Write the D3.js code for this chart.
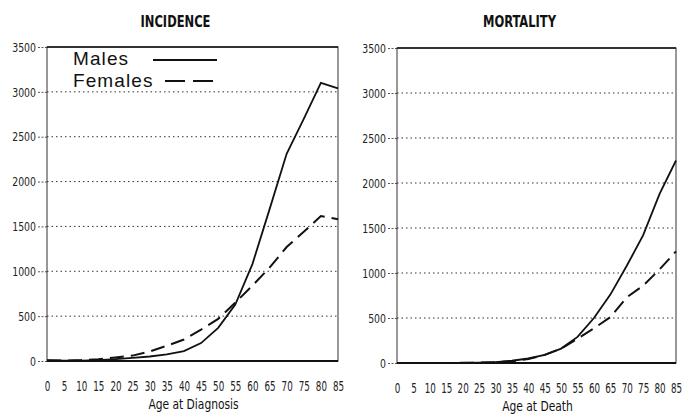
<!DOCTYPE html>
<html lang="en">
<head>
<meta charset="UTF-8" />
<title>Incidence and Mortality</title>
<script src="https://d3js.org/d3.v7.min.js"></script>
<style>
  body { margin: 0; background: #fff; }
  svg { display: block; }
  .narrow { font-family: "DejaVu Sans Condensed", "Liberation Sans Narrow", "Arial Narrow", sans-serif; font-stretch: condensed; }
</style>
</head>
<body>
<div id="chart"></div>
<script>
const ages = [0, 5, 10, 15, 20, 25, 30, 35, 40, 45, 50, 55, 60, 65, 70, 75, 80, 85];
const yTicks = [0, 500, 1000, 1500, 2000, 2500, 3000, 3500];

const incidenceMales   = [10, 5, 5, 10, 20, 35, 50, 75, 110, 200, 370, 630, 1080, 1690, 2310, 2700, 3100, 3040];
const incidenceFemales = [5, 5, 10, 20, 40, 60, 105, 170, 240, 350, 470, 650, 840, 1040, 1270, 1440, 1615, 1580];
const mortalityMales   = [0, 0, 0, 0, 2, 5, 10, 25, 50, 90, 160, 290, 500, 760, 1080, 1420, 1880, 2250];
const mortalityFemales = [0, 0, 0, 0, 2, 4, 8, 20, 45, 90, 160, 270, 385, 510, 730, 860, 1040, 1240];

const panels = [
  { title: "INCIDENCE", xTitle: "Age at Diagnosis", males: incidenceMales, females: incidenceFemales,
    left: 47, right: 338, top: 47, bottom: 361, legend: true },
  { title: "MORTALITY", xTitle: "Age at Death", males: mortalityMales, females: mortalityFemales,
    left: 397, right: 676, top: 48, bottom: 363, legend: false }
];

const svg = d3.select("#chart").append("svg")
  .attr("width", 683).attr("height", 420);

// squeeze a text horizontally around its own x position
function squeeze(sel, sx) {
  sel.each(function () {
    const t = d3.select(this);
    const x0 = +(t.attr("x") || 0);
    t.attr("x", 0).attr("transform", `translate(${x0},0) scale(${sx},1)`);
  });
}

panels.forEach(p => {
  const x = d3.scaleLinear().domain([0, 85]).range([p.left, p.right]);
  const y = d3.scaleLinear().domain([0, 3500]).range([p.bottom, p.top]);
  const g = svg.append("g");

  // gridlines
  g.selectAll("line.grid")
    .data(yTicks.filter(t => t > 0 && t < 3500))
    .join("line")
    .attr("x1", p.left).attr("x2", p.right)
    .attr("y1", d => y(d)).attr("y2", d => y(d))
    .attr("stroke", "#333").attr("stroke-width", 1)
    .attr("stroke-dasharray", "1.5,3");

  // y axis
  const yAxis = g.append("g")
    .attr("class", "narrow")
    .attr("transform", `translate(${p.left},0)`)
    .call(d3.axisLeft(y).tickValues(yTicks).tickFormat(d3.format("d")).tickSize(9).tickPadding(2));
  yAxis.select(".domain").remove();
  yAxis.selectAll(".tick line").attr("stroke", "#555").attr("stroke-dasharray", "2,1.5");
  yAxis.selectAll("text").attr("font-size", 13).attr("fill", "#222").call(squeeze, 0.8);

  // x axis labels
  const xAxis = g.append("g")
    .attr("class", "narrow")
    .attr("transform", `translate(0,${p.bottom})`)
    .call(d3.axisBottom(x).tickValues(ages).tickSize(0).tickPadding(20));
  xAxis.select(".domain").remove();
  xAxis.selectAll("text").attr("font-size", 13.5).attr("fill", "#222").call(squeeze, 0.72);

  // frame
  g.append("rect")
    .attr("x", p.left).attr("y", p.top)
    .attr("width", p.right - p.left).attr("height", p.bottom - p.top)
    .attr("fill", "none").attr("stroke", "#333").attr("stroke-width", 1);
  g.append("line")
    .attr("x1", p.left).attr("x2", p.right)
    .attr("y1", p.top).attr("y2", p.top)
    .attr("stroke", "#111").attr("stroke-width", 1.5);
  g.append("line")
    .attr("x1", p.left).attr("x2", p.right)
    .attr("y1", p.bottom).attr("y2", p.bottom)
    .attr("stroke", "#111").attr("stroke-width", 2);

  // lines
  const line = d3.line().x((d, i) => x(ages[i])).y(d => y(d));
  g.append("path").datum(p.females)
    .attr("d", line).attr("fill", "none")
    .attr("stroke", "#111").attr("stroke-width", 2)
    .attr("stroke-dasharray", "14,7");
  g.append("path").datum(p.males)
    .attr("d", line).attr("fill", "none")
    .attr("stroke", "#111").attr("stroke-width", 1.8);

  // titles
  svg.append("text")
    .attr("class", "narrow")
    .attr("x", (p.left + p.right) / 2 - 17).attr("y", 27)
    .attr("text-anchor", "middle")
    .attr("font-size", 16).attr("font-weight", "bold").attr("fill", "#111")
    .text(p.title)
    .call(squeeze, 0.8);
  svg.append("text")
    .attr("class", "narrow")
    .attr("x", (p.left + p.right) / 2 + 1).attr("y", p.bottom + 48)
    .attr("text-anchor", "middle")
    .attr("font-size", 14).attr("fill", "#111")
    .text(p.xTitle)
    .call(squeeze, 0.85);

  if (p.legend) {
    const lg = g.append("g").attr("font-family", "Liberation Sans, Arial, sans-serif")
      .attr("letter-spacing", 1.1);
    lg.append("text").attr("x", 73).attr("y", 65).attr("font-size", 19).attr("fill", "#111").text("Males");
    lg.append("line").attr("x1", 153).attr("x2", 217).attr("y1", 60).attr("y2", 60)
      .attr("stroke", "#111").attr("stroke-width", 2);
    lg.append("text").attr("x", 73).attr("y", 87).attr("font-size", 19).attr("fill", "#111").text("Females");
    lg.append("line").attr("x1", 165).attr("x2", 213).attr("y1", 81).attr("y2", 81)
      .attr("stroke", "#111").attr("stroke-width", 2).attr("stroke-dasharray", "20,8");
  }
});
</script>
</body>
</html>
